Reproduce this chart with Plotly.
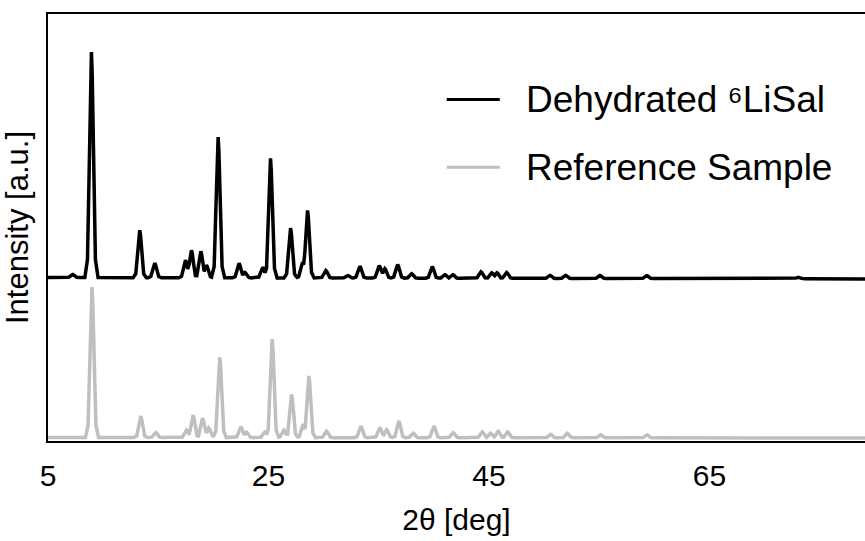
import numpy as np
import plotly.graph_objects as go

# ---- data (2θ in degrees, intensity in arbitrary units) ----
x_ticks = [5, 25, 45, 65]

dehyd_peak_pos = [7.24, 8.94, 13.32, 14.68, 17.47, 18.01, 18.86, 19.37, 20.43, 22.33,
                  22.85, 24.48, 25.18, 27.00, 28.09, 28.54, 30.20, 32.20, 33.29, 35.04,
                  35.55, 36.71, 37.98, 39.85, 41.00, 41.72, 44.27, 45.24, 45.72, 46.60,
                  50.53, 51.95, 55.06, 59.30, 73.06]
dehyd_peak_int = [3.0, 225.5, 47.5, 14.5, 17.5, 27.5, 26.5, 12.5, 140.8, 14.5,
                  5.5, 10.5, 119.5, 49.8, 15.8, 67.5, 7.5, 2.5, 11.8, 12.5,
                  9.5, 13.5, 4.5, 11.5, 3.5, 3.5, 6.5, 5.5, 5.5, 5.8,
                  3.0, 3.0, 3.0, 3.0, 1.5]
dehyd_offset = [163.5, 162.0]          # baseline offset at 2θ = 5 and 2θ = 80

ref_peak_pos = [8.99, 13.41, 14.77, 17.56, 18.16, 19.01, 19.58, 20.58, 22.49, 23.00,
                24.66, 25.33, 26.39, 27.09, 28.14, 28.66, 30.26, 33.38, 35.10, 35.71,
                36.82, 38.12, 40.00, 41.75, 44.38, 45.14, 45.83, 46.69, 50.59, 52.10,
                55.13, 59.33]
ref_peak_int = [150.5, 21.5, 5.0, 7.5, 22.5, 19.5, 9.5, 80.2, 10.8, 5.5,
                5.5, 98.5, 7.5, 43.2, 13.5, 61.8, 6.5, 11.5, 10.2, 8.0,
                16.8, 4.5, 11.5, 5.0, 5.8, 4.5, 6.5, 5.8, 3.5, 4.5,
                3.0, 3.0]
ref_offset = [3.5, 3.0]

x_range = [5, 79.1]
y_range = [0, 427]

# peak outline (style): offsets in degrees and fraction of the peak height
PEAK_DX = np.array([-0.6, -0.36, -0.2, -0.07, 0.0, 0.07, 0.2, 0.36, 0.6])
PEAK_FR = np.array([0.0, 0.08, 0.5, 0.9, 1.0, 0.9, 0.5, 0.08, 0.0])


def pattern(pos, inten, offset):
    xs = [5.0, 80.0]
    for p in pos:
        xs.extend(list(p + PEAK_DX))
    xs = np.unique(np.round(np.array(xs), 4))
    ys = np.interp(xs, [5.0, 80.0], offset)
    peak = np.zeros_like(xs)
    for p, h in zip(pos, inten):
        peak = np.maximum(peak, np.interp(xs, p + PEAK_DX, h * PEAK_FR, left=0, right=0))
    return xs, ys + peak


bx, by = pattern(dehyd_peak_pos, dehyd_peak_int, dehyd_offset)
gx, gy = pattern(ref_peak_pos, ref_peak_int, ref_offset)

FONT = "Liberation Sans, Arial, sans-serif"
BLACK = "#000000"
GRAY = "#bfbfbf"

fig = go.Figure()
fig.add_trace(go.Scatter(x=gx, y=gy, mode="lines", name="Reference Sample",
                         line=dict(color=GRAY, width=3.5), showlegend=False))
fig.add_trace(go.Scatter(x=bx, y=by, mode="lines", name="Dehydrated ⁶LiSal",
                         line=dict(color=BLACK, width=3.5), showlegend=False))

# legend drawn manually (long line samples like the reference)
legend_items = [("Dehydrated ⁶LiSal", BLACK, 0.80), ("Reference Sample", GRAY, 0.641)]
for label, col, yy in legend_items:
    fig.add_shape(type="line", xref="paper", yref="paper", x0=0.488, x1=0.553, y0=yy, y1=yy,
                  line=dict(color=col, width=3))
    fig.add_annotation(xref="paper", yref="paper", x=0.583, y=yy, text=label, showarrow=False,
                       xanchor="left", yanchor="middle", font=dict(family=FONT, size=37, color="#000"))

fig.update_layout(
    width=865, height=541,
    margin=dict(l=48, r=0, t=14, b=100),
    paper_bgcolor="white", plot_bgcolor="white",
    font=dict(family=FONT, color="#000"),
    xaxis=dict(range=x_range, tickvals=x_ticks, ticktext=[str(v) for v in x_ticks],
               showgrid=False, zeroline=False, showline=True, linecolor="#000", linewidth=2,
               mirror=True, ticks="outside", ticklen=7, tickcolor="rgba(0,0,0,0)",
               tickfont=dict(family=FONT, size=30), automargin=False,
               title=dict(text="2θ [deg]", font=dict(family=FONT, size=30), standoff=18)),
    yaxis=dict(range=y_range, showticklabels=False, ticks="", showgrid=False, zeroline=False,
               showline=True, linecolor="#000", linewidth=2, mirror=False, automargin=False,
               title=dict(text="Intensity [a.u.]", font=dict(family=FONT, size=31), standoff=8)),
)

fig.write_html("out.html", config={"displayModeBar": False},
               post_script="document.body.style.margin='0';document.body.style.overflow='hidden';")
